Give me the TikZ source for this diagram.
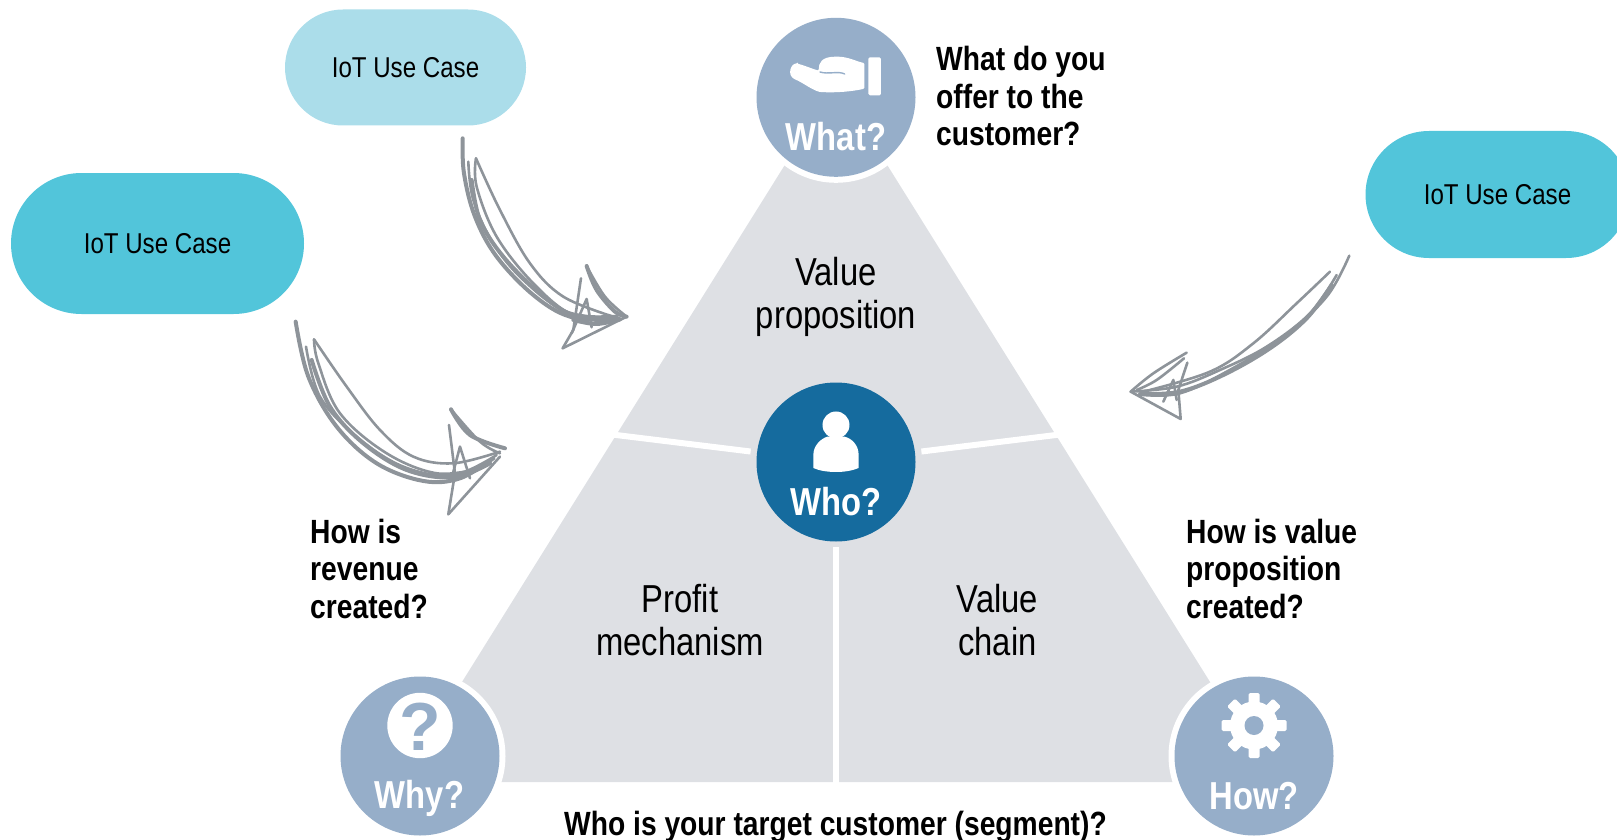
\documentclass[tikz,border=0pt]{standalone}
\usepackage{fontspec}
\usetikzlibrary{shapes.misc}
\setmainfont{Liberation Sans}
\newfontfamily\condreg[FakeStretch=0.84]{Liberation Sans}
\newfontfamily\condbold[FakeStretch=0.84]{Liberation Sans Bold}
\definecolor{tri}{HTML}{DEE0E4}
\definecolor{soft}{HTML}{96AEC9}
\definecolor{deep}{HTML}{156B9E}
\definecolor{pilla}{HTML}{ABDDEA}
\definecolor{pillb}{HTML}{52C5DA}
\definecolor{sketch}{HTML}{8E949A}
\tikzset{
  disc/.style={circle,fill=soft,minimum size=159pt,inner sep=0pt},
  ring/.style={circle,fill=white,minimum size=171pt,inner sep=0pt},
  disclabel/.style={text=white,font=\condbold\fontsize{39}{39}\selectfont,inner sep=0pt},
  pill/.style={rounded rectangle,text=black,font=\condreg\fontsize{28.7}{29}\selectfont,inner sep=0pt},
  ask/.style={align=left,anchor=west,inner sep=0pt,text=black,font=\condbold\fontsize{33.6}{37.5}\selectfont},
  area/.style={align=center,inner sep=0pt,text=black,font=\condreg\fontsize{39}{43}\selectfont},
  stroke/.style={draw=sketch,line width=2.6pt,line cap=round,line join=round,smooth,tension=0.6},
  thick stroke/.style={stroke,line width=4pt},
  sep/.style={draw=white,line width=6pt},
}
\begin{document}
\begin{tikzpicture}[x=1pt,y=-1pt]
\useasboundingbox (0,0) rectangle (1617,840);
% triangle
\fill[tri] (836,83) -- (1272.5,782) -- (399.5,782) -- cycle;
\coordinate (sl) at (612,434.5);
\coordinate (sr) at (1060,434.5);
\coordinate (sb) at (836,792);
\node[disc,fill=deep] (who) at (836,462) {};
\draw[sep] (836,462) -- (sb);
\draw[sep] (sl) -- (836,462);
\draw[sep] (sr) -- (836,462);
\node[circle,fill=tri,minimum size=172pt,inner sep=0pt] at (who) {};
\draw[sep] (836,547) -- (sb);
\node[disc,fill=deep] at (who) {};
\node[ring] at (836,97.3) {};
\node[ring] at (420,756) {};
\node[ring] at (1254,756) {};
\node[disc] (what) at (836,97.3) {};
\node[disc] (why) at (420,756) {};
\node[disc] (how) at (1254,756) {};
% pills
\node[pill,fill=pilla,minimum width=241pt,minimum height=116pt] (p1) at (405.5,67.5) {IoT Use Case};
\node[pill,fill=pillb,minimum width=293pt,minimum height=141pt] (p2) at (157.5,243.5) {IoT Use Case};
\node[pill,fill=pillb,minimum width=264pt,minimum height=127pt] (p3) at (1497.5,194.5) {IoT Use Case};
% disc labels
\node[disclabel] (whatl) at (836,137) {What?};
\node[disclabel] (whyl) at (419.5,798) {Why?};
\node[disclabel] (howl) at (1254,796) {How?};
\node[disclabel] (whol) at (836,502) {Who?};
% hand icon
\begin{scope}[shift={(740,0)},x=0.3333pt,y=-0.3333pt]
\fill[white,rounded corners=1.5pt] (385,172) rectangle (423,286);
\fill[white,rounded corners=1pt] (172,191) .. controls (190,195) and (215,206) .. (236,212) .. controls (236,188) and (245,170) .. (290,170) .. controls (325,170) and (350,185) .. (373,189) -- (373,266) .. controls (340,274) and (290,279) .. (240,276) .. controls (215,269) and (190,249) .. (165,238) .. controls (140,225) and (153,189) .. (172,191) -- cycle;
\draw[soft,line width=1.4pt,line cap=round] (240,216) .. controls (265,224) and (295,212) .. (314,222);
\end{scope}
% person icon
\begin{scope}[shift={(740,370)},x=0.3333pt,y=-0.3333pt]
\fill[white] (288,165) circle[radius=13.5pt];
\fill[white] (220,294) -- (220,255) .. controls (220,225) and (245,205) .. (262,200) -- (314,200) .. controls (335,205) and (356,225) .. (356,255) -- (356,294) .. controls (320,310) and (255,310) .. (220,294) -- cycle;
\end{scope}
% question icon
\fill[white] (420,725.5) circle[radius=32.7pt];
\node[inner sep=0pt,text=soft,font=\bfseries\fontsize{68}{68}\selectfont] (qm) at (420,727) {?};
% gear icon
\begin{scope}[shift={(1254,725.5)}]
\fill[white] (0,0) circle[radius=24pt];
\foreach \a in {0,45,...,315}{
  \fill[white,rotate=\a,rounded corners=1.5pt] (-5.5,-32.5) rectangle (5.5,-18);
}
\fill[soft] (0,0) circle[radius=9.5pt];
\end{scope}
% questions
\node[ask] (q1) at (936,96) {What do you\\offer to the\\customer?};
\node[ask] (q2) at (310,568.5) {How is\\revenue\\created?};
\node[ask] (q3) at (1186,568.5) {How is value\\proposition\\created?};
\node[inner sep=0pt,text=black,font=\condbold\fontsize{33.6}{37}\selectfont] (q4) at (835.5,827) {Who is your target customer (segment)?};
% areas
\node[area] (a1) at (836,296.5) {Value\\proposition};
\node[area] (a2) at (680,620) {Profit\\mechanism};
\node[area] (a3) at (997.5,620) {Value\\chain};
% sketch arrow upper-left
\begin{scope}[shift={(280,120)},x=0.3333pt,y=-0.3333pt]
\coordinate (s1) at (548,55);
\coordinate (t1) at (1040,590);
\draw[thick stroke] plot coordinates {(s1) (552,160) (585,290) (650,410) (760,525) (870,590) (1005,600)};
\draw[stroke] plot coordinates {(565,125) (580,240) (640,370) (730,480) (860,575) (1020,595)};
\draw[thick stroke] plot coordinates {(575,180) (600,300) (670,410) (780,520) (880,585) (1010,590)};
\draw[stroke] plot coordinates {(588,115) (590,200) (650,350) (760,490) (880,585) (1010,590)};
\draw[stroke] plot coordinates {(588,115) (660,270) (750,430) (850,530) (1000,590)};
\draw[thick stroke] plot coordinates {(920,438) (950,510) (1005,575) (t1)};
\draw[stroke] plot coordinates {(920,438) (975,530) (t1)};
\draw[stroke] (848,685) -- (t1);
\draw[stroke] (848,685) -- (880,630) -- (903,475);
\draw[stroke] (875,640) -- (920,537) -- (935,622);
\draw[thick stroke] plot coordinates {(880,600) (950,612) (1020,598)};
\end{scope}
% sketch arrow lower-left
\begin{scope}[shift={(280,120)},x=0.3333pt,y=-0.3333pt]
\coordinate (s2) at (47,605);
\coordinate (t2) at (675,985);
\draw[thick stroke] plot coordinates {(s2) (85,770) (170,920) (290,1030) (430,1083) (540,1075) (640,1015)};
\draw[stroke] plot coordinates {(78,680) (120,830) (230,950) (370,1040) (520,1065) (650,1005)};
\draw[thick stroke] plot coordinates {(95,720) (150,860) (250,970) (380,1050) (520,1072) (630,1030)};
\draw[stroke] plot coordinates {(102,658) (115,730) (180,880) (320,1000) (470,1060) (600,1045)};
\draw[stroke] plot coordinates {(102,658) (200,800) (300,930) (400,1010) (520,1030) (660,995)};
\draw[thick stroke] plot coordinates {(513,868) (570,945) (t2)};
\draw[stroke] plot coordinates {(513,868) (600,965) (660,1000)};
\draw[stroke] (505,1183) -- (660,1010);
\draw[stroke] (505,1183) -- (525,1060) -- (507,915);
\draw[stroke] (515,1075) -- (540,980) -- (570,1075);
\end{scope}
% sketch arrow right
\begin{scope}[shift={(1110,240)},x=0.3333pt,y=-0.3333pt]
\coordinate (s3) at (718,47);
\coordinate (t3) at (62,455);
\draw[stroke] plot coordinates {(s3) (650,170) (520,290) (350,395) (210,460) (100,465)};
\draw[stroke] plot coordinates {(680,105) (600,220) (470,320) (330,390) (200,440) (t3)};
\draw[thick stroke] plot coordinates {(665,135) (590,235) (480,325) (340,405) (210,455) (90,462)};
\draw[stroke] plot coordinates {(660,95) (560,190) (430,310) (300,395) (100,455)};
\draw[stroke] plot coordinates {(230,338) (130,400) (t3)};
\draw[stroke] plot coordinates {(222,355) (140,420) (80,450)};
\draw[stroke] (t3) -- (212,537) -- (205,450) -- (232,368);
\draw[stroke] (160,485) -- (190,420) -- (200,480);
\end{scope}
\end{tikzpicture}
\end{document}
